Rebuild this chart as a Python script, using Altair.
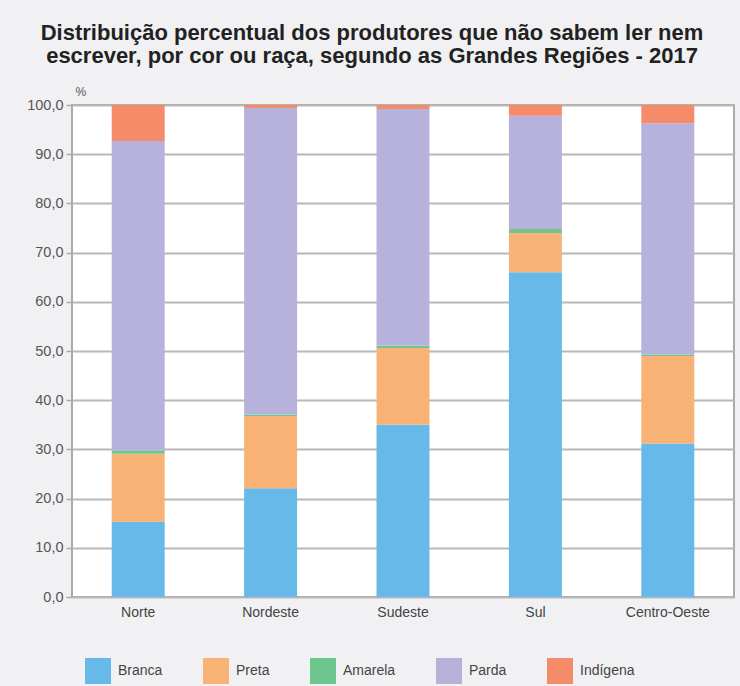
import altair as alt
import pandas as pd

regions = ["Norte", "Nordeste", "Sudeste", "Sul", "Centro-Oeste"]
groups = ["Branca", "Preta", "Amarela", "Parda", "Indígena"]
branca = [15.3, 22.1, 35.0, 66.0, 31.2]
preta = [13.8, 14.7, 15.6, 8.0, 17.8]
amarela = [0.7, 0.3, 0.5, 0.8, 0.3]
parda = [62.9, 62.3, 48.1, 23.0, 47.0]
indigena = [7.3, 0.6, 0.8, 2.2, 3.7]
colors = ["#66b9e8", "#f8b275", "#6dc68d", "#b6b2dc", "#f58b69"]

series = [branca, preta, amarela, parda, indigena]
rows = []
for gi, (g, vals) in enumerate(zip(groups, series)):
    for r, v in zip(regions, vals):
        rows.append({"Região": r, "Cor": g, "ordem": gi, "valor": v})
df = pd.DataFrame(rows)

FONT = "Liberation Sans, Arial, sans-serif"

chart = alt.Chart(df).mark_bar().encode(
    x=alt.X("Região:N", sort=regions,
            scale=alt.Scale(paddingInner=0.6, paddingOuter=0.3),
            axis=alt.Axis(title=None, labelAngle=0, ticks=False, domain=False,
                          labelFontSize=14, labelColor="#444", labelFont=FONT,
                          labelPadding=8)),
    y=alt.Y("valor:Q", stack="zero",
            scale=alt.Scale(domain=[0, 100], nice=False),
            axis=alt.Axis(values=list(range(0, 101, 10)),
                          labelExpr="replace(format(datum.value, '.1f'), '.', ',')",
                          title="%", titleAngle=0, titleAlign="left",
                          titleBaseline="alphabetic", titleX=3, titleY=-10,
                          titleFontSize=12, titleFontWeight="normal", titleColor="#555",
                          titleFont=FONT,
                          labelFontSize=14.5, labelColor="#555", labelFont=FONT,
                          tickSize=6, tickColor="#aaa", tickWidth=1.5,
                          domain=False, gridColor="#b8b8b8", gridWidth=1.8,
                          labelPadding=3)),
    color=alt.Color("Cor:N", sort=groups,
                    scale=alt.Scale(domain=groups, range=colors),
                    legend=alt.Legend(title=None, orient="none", direction="horizontal",
                                      legendX=13, legendY=553, columns=5,
                                      columnPadding=40, symbolType="square",
                                      symbolSize=676, symbolStrokeWidth=0,
                                      symbolOpacity=1, labelFontSize=14,
                                      labelColor="#444", labelFont=FONT,
                                      labelOffset=7)),
    order=alt.Order("ordem:Q", sort="ascending"),
).properties(
    width=662,
    height=492,
    title=alt.TitleParams(
        ["Distribuição percentual dos produtores que não sabem ler nem",
         "escrever, por cor ou raça, segundo as Grandes Regiões - 2017"],
        fontSize=22, fontWeight="bold", font=FONT, color="#222",
        anchor="middle", frame="group", dx=-31, lineHeight=23, offset=17),
    autosize=alt.AutoSizeParams(type="none"),
    padding={"left": 72, "top": 105, "right": 6, "bottom": 89},
    background="#f1f1f3",
).configure_view(
    fill="white", stroke="#aaaaaa", strokeWidth=2
)

chart.save("out.html", embed_options={"renderer": "svg", "actions": False})
